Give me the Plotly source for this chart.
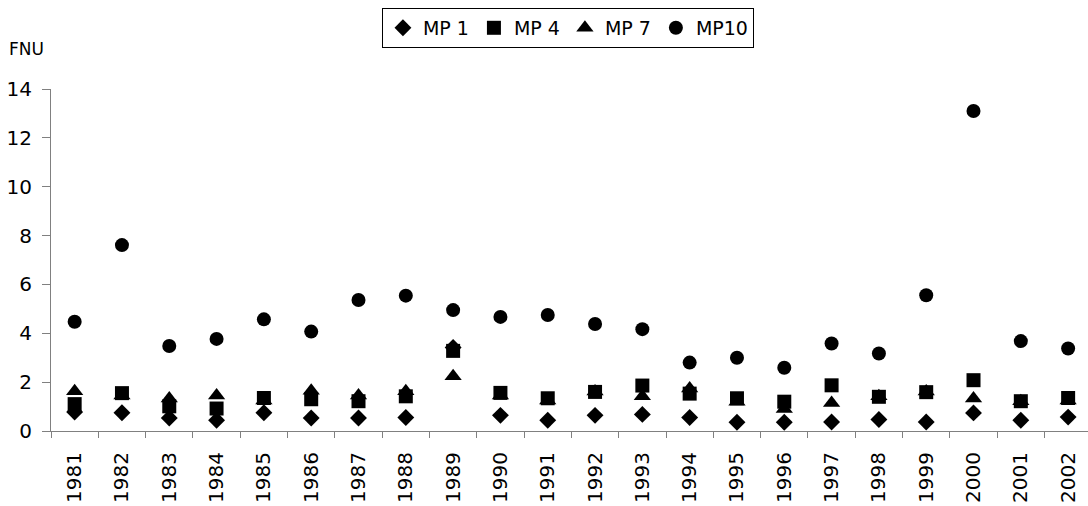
import plotly.graph_objects as go

# Measurement years
years = [str(y) for y in range(1981, 2003)]

# Turbidity (FNU) per monitoring point
mp1 = [0.78, 0.75, 0.53, 0.44, 0.75, 0.53, 0.53, 0.55, 3.42, 0.64, 0.44,
       0.64, 0.68, 0.55, 0.36, 0.36, 0.37, 0.47, 0.37, 0.74, 0.44, 0.57]
mp4 = [1.10, 1.55, 1.01, 0.92, 1.35, 1.30, 1.22, 1.42, 3.28, 1.56, 1.34,
       1.60, 1.86, 1.53, 1.34, 1.20, 1.87, 1.40, 1.59, 2.08, 1.22, 1.35]
mp7 = [1.63, 1.45, 1.33, 1.45, 1.25, 1.65, 1.45, 1.63, 2.24, 1.45, 1.25,
       1.62, 1.42, 1.74, 1.20, 0.90, 1.15, 1.42, 1.62, 1.33, 1.22, 1.25]
mp10 = [4.47, 7.61, 3.48, 3.77, 4.57, 4.07, 5.36, 5.54, 4.95, 4.67, 4.75,
        4.38, 4.17, 2.80, 3.00, 2.59, 3.58, 3.17, 5.56, 13.1, 3.68, 3.38]

y_ticks = [0, 2, 4, 6, 8, 10, 12, 14]

FONT = "DejaVu Sans"
AXIS_GREY = "#808080"

series = [
    ("MP 1", mp1, "diamond", 13),
    ("MP 4", mp4, "square", 14),
    ("MP 7", mp7, "triangle-up", 15),
    ("MP10", mp10, "circle", 14),
]

fig = go.Figure()
for name, vals, symbol, size in series:
    fig.add_trace(go.Scatter(
        x=years, y=vals, name=name, mode="markers",
        marker=dict(symbol=symbol, size=size, color="black",
                    line=dict(width=0)),
    ))

fig.update_layout(
    width=1088, height=506,
    margin=dict(l=51, r=0, t=89, b=75, pad=0),
    paper_bgcolor="white", plot_bgcolor="white",
    font=dict(family=FONT, size=20, color="black"),
    showlegend=True,
    legend=dict(
        orientation="h", x=0.4985, xanchor="center", y=1.237, yanchor="top",
        bordercolor="black", borderwidth=1, bgcolor="white",
        font=dict(family=FONT, size=19, color="black"),
        itemwidth=30, tracegroupgap=0, traceorder="normal",
    ),
    xaxis=dict(
        type="category", categoryorder="array", categoryarray=years,
        range=[-0.5, 21.42], tickmode="array", tickvals=years, ticktext=years,
        tickson="boundaries", ticks="outside", ticklen=6, tickwidth=1,
        tickcolor=AXIS_GREY, showline=True, linecolor=AXIS_GREY, linewidth=1,
        showgrid=False, zeroline=False, tickangle=-90, automargin=False,
        ticklabelstandoff=12,
        tickfont=dict(family=FONT, size=20, color="black"),
    ),
    yaxis=dict(
        range=[0, 14], tickvals=y_ticks, ticktext=[str(v) for v in y_ticks],
        ticks="outside", ticklen=8, tickwidth=1, tickcolor=AXIS_GREY,
        showline=True, linecolor=AXIS_GREY, linewidth=1, showgrid=False,
        zeroline=False, automargin=False, ticklabelstandoff=6,
        tickfont=dict(family=FONT, size=20, color="black"),
    ),
    annotations=[dict(
        text="FNU", xref="paper", yref="paper", x=-0.0424, y=1.117,
        xanchor="left", yanchor="middle", showarrow=False,
        font=dict(family=FONT, size=17, color="black"),
    )],
)

fig.write_html("out.html")
